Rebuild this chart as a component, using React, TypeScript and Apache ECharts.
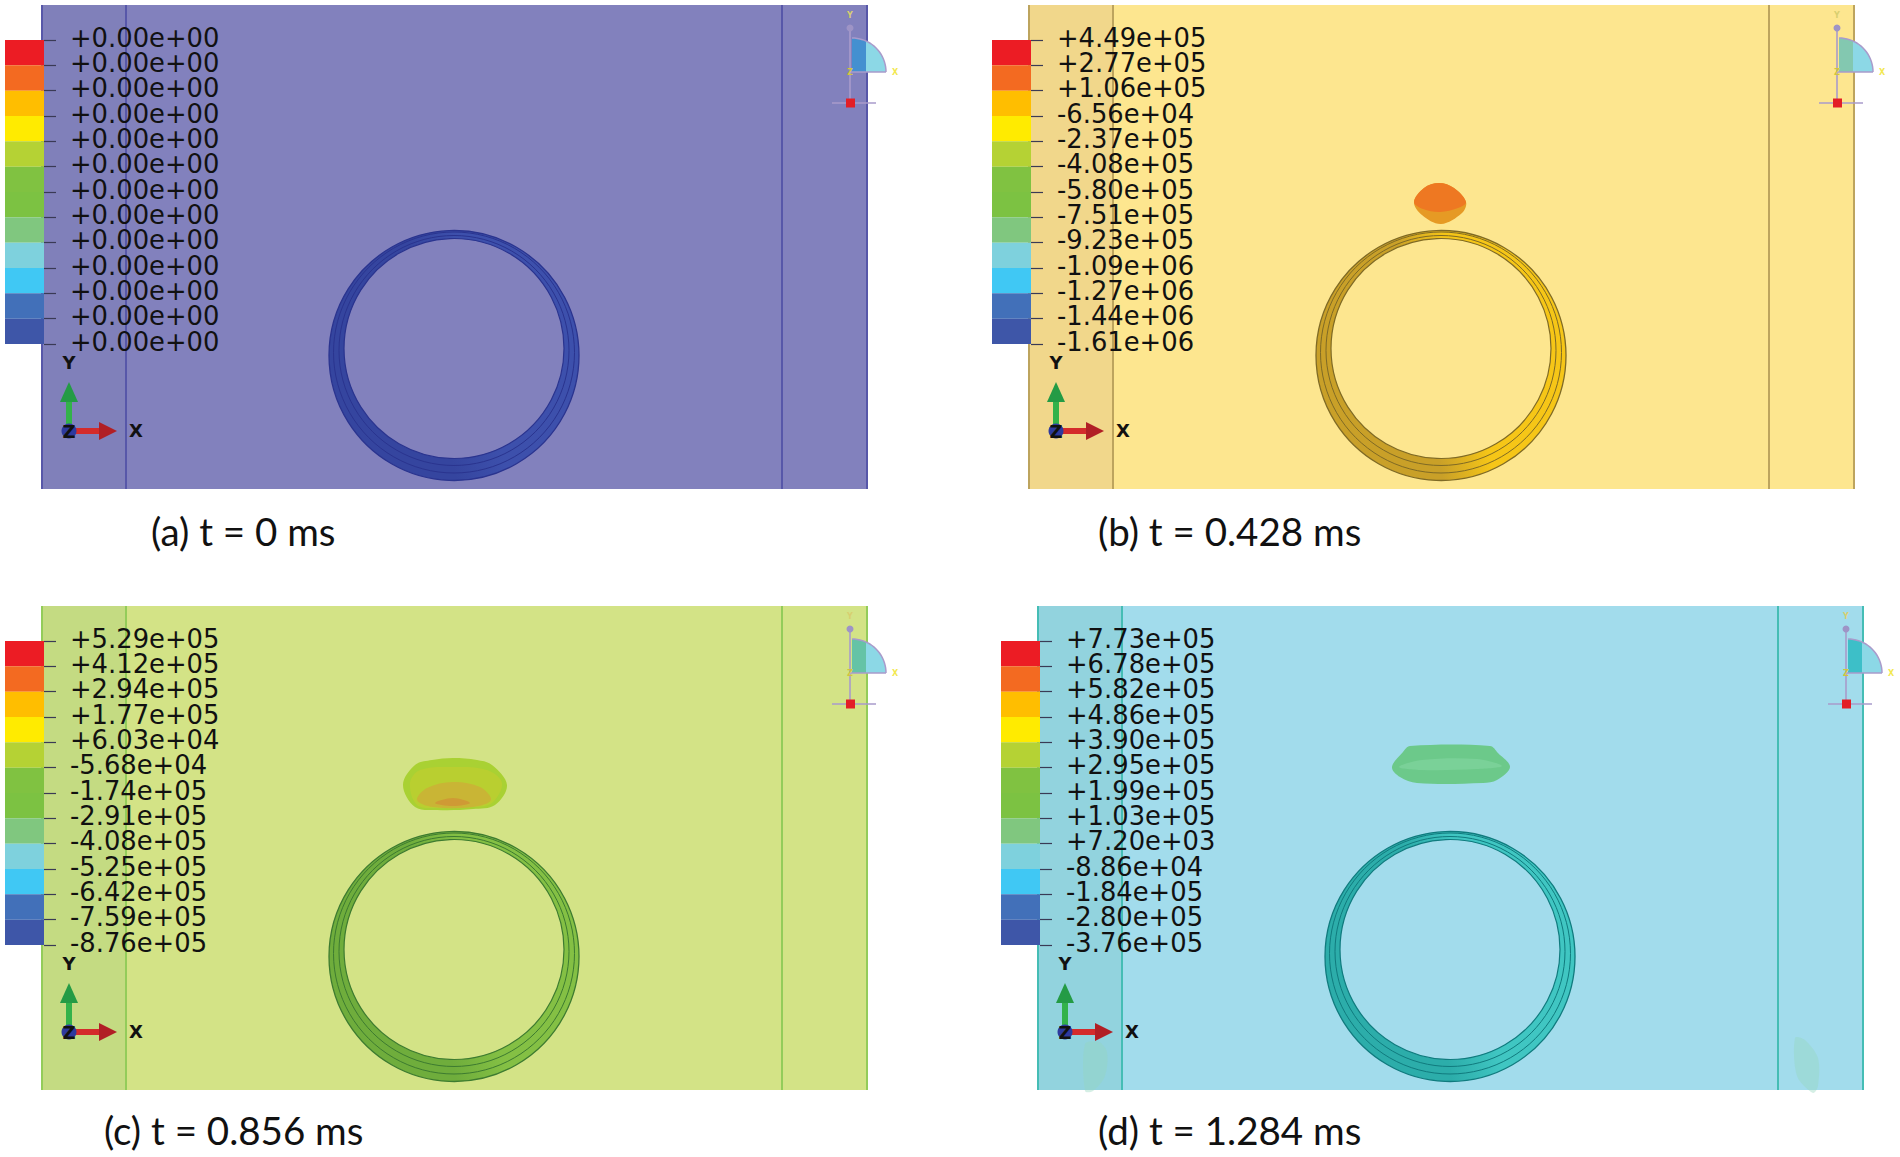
import React, { useEffect, useRef } from "react";
import * as echarts from "echarts";

const labelsA = ["+0.00e+00","+0.00e+00","+0.00e+00","+0.00e+00","+0.00e+00","+0.00e+00","+0.00e+00","+0.00e+00","+0.00e+00","+0.00e+00","+0.00e+00","+0.00e+00","+0.00e+00"];
const labelsB = ["+4.49e+05","+2.77e+05","+1.06e+05","-6.56e+04","-2.37e+05","-4.08e+05","-5.80e+05","-7.51e+05","-9.23e+05","-1.09e+06","-1.27e+06","-1.44e+06","-1.61e+06"];
const labelsC = ["+5.29e+05","+4.12e+05","+2.94e+05","+1.77e+05","+6.03e+04","-5.68e+04","-1.74e+05","-2.91e+05","-4.08e+05","-5.25e+05","-6.42e+05","-7.59e+05","-8.76e+05"];
const labelsD = ["+7.73e+05","+6.78e+05","+5.82e+05","+4.86e+05","+3.90e+05","+2.95e+05","+1.99e+05","+1.03e+05","+7.20e+03","-8.86e+04","-1.84e+05","-2.80e+05","-3.76e+05"];
const legendColors = ["#EC1C24","#F36A21","#FFBE00","#FFEB00","#B5D234","#80C241","#7CC242","#80C77F","#7ED1DD","#40C8F4","#4270B9","#3E56A8"];
const captions = ["(a) t = 0 ms","(b) t = 0.428 ms","(c) t = 0.856 ms","(d) t = 1.284 ms"];
const captionLeft = [151,1098,104,1098];
const captionTop = [511,511,1110,1110];
const allLabels = [labelsA,labelsB,labelsC,labelsD];
const originX = [41,1028,41,1037];
const originY = [5,5,606,606];
const plate = ["#8281BD","#FDE68F","#D3E386","#A2DCEC"];
const band = ["#8080BA","#F1D78B","#C4DB82","#92D3DE"];
const divider = ["#5757A9","#BDA45E","#93CC5A","#45BDB5"];
const ringLight = ["#3D50AC","#F6C617","#84C044","#40C6C2"];
const ringDark = ["#35459F","#C9A028","#6FAD3C","#2CADAA"];
const ringLine = ["#2A348F","#7F6A25","#3D7B30","#107B7E"];
const cubeInner = ["#4490D0","#83C8B0","#65C3A6","#3DBFC8"];
const cubeOuter = ["#8CD8E6","#8CD8E6","#8CD8E6","#8CD8E6"];
const blobB: number[][][] = [
  [[386,197],[396,183],[411,178],[426,183],[438,197],[434,208],[413,219],[394,210]],
  [[386,197],[396,183],[411,178],[426,183],[438,197],[430,203],[412,207],[395,204]],
];
const blobC: number[][][] = [
  [[362,179],[374,159],[391,154],[412,152],[436,154],[451,159],[466,179],[454,199],[432,203],[396,204],[374,201]],
  [[369,177],[379,164],[412,161],[446,164],[461,177],[451,197],[432,201],[396,202],[376,199]],
  [[376,194],[386,182],[412,176],[439,181],[450,194],[432,201],[392,201]],
  [[394,197],[412,192],[429,197],[412,200]],
];
const blobD: number[][][] = [
  [[355,161],[366,146],[373,140],[453,140],[461,147],[473,161],[460,174],[446,177],[380,177],[363,171]],
  [[362,161],[385,154],[440,153],[465,160],[440,163],[385,164]],
];
const faintD: number[][][] = [
  [[48,438],[62,436],[70,446],[68,470],[56,485],[48,485]],
  [[758,432],[768,434],[781,452],[781,480],[776,487],[760,470]],
];
const blobs = [[], blobB, blobC, blobD];
const blobColors = [[],["#E69A24","#EE7822"],["#A9D133","#B9CF30","#C9B535","#CF9A35"],["#6CC98A","#7AD198"]];

function sceneItem(p: number) {
  return (_params: any, api: any) => {
    const pt = (x: number, y: number) => api.coord([x, y]);
    const children: any[] = [];
    const rect = (x0: number, y0: number, x1: number, y1: number, fill: string) => {
      const a = pt(x0, y0); const b = pt(x1, y1);
      children.push({ type: "rect", shape: { x: a[0], y: a[1], width: b[0]-a[0], height: b[1]-a[1] }, style: { fill } });
    };
    const poly = (pts: number[][], fill: string, smooth = 0) => {
      children.push({ type: "polygon", shape: { points: pts.map((q) => pt(q[0], q[1])), smooth }, style: { fill } });
    };
    const line = (x0: number, y0: number, x1: number, y1: number, stroke: string, lineWidth: number) => {
      const a = pt(x0, y0); const b = pt(x1, y1);
      children.push({ type: "line", shape: { x1: a[0], y1: a[1], x2: b[0], y2: b[1] }, style: { stroke, lineWidth } });
    };
    const text = (s: string, x: number, y: number, fill: string, font: string) => {
      const a = pt(x, y);
      children.push({ type: "text", x: a[0], y: a[1], style: { text: s, fill, font, align: "center", verticalAlign: "middle" } });
    };
    const circle = (x: number, y: number, r: number, fill: any, stroke: string, lineWidth: number) => {
      const a = pt(x, y);
      children.push({ type: "circle", shape: { cx: a[0], cy: a[1], r }, style: { fill, stroke, lineWidth } });
    };
    // plate
    rect(0, 0, 827, 484, plate[p]);
    rect(0, 0, 85, 484, band[p]);
    line(1, 0, 1, 484, divider[p], 2);
    line(85, 0, 85, 484, divider[p], 2);
    line(741, 0, 741, 484, divider[p], 2);
    line(826, 0, 826, 484, divider[p], 2);
    // ring
    const grad = new echarts.graphic.LinearGradient(0, 0.8, 1, 0.6, [
      { offset: 0, color: ringDark[p] }, { offset: 0.45, color: ringDark[p] }, { offset: 0.65, color: ringLight[p] }, { offset: 1, color: ringLight[p] },
    ]);
    circle(413, 350.5, 125, grad, ringLine[p], 1.3);
    circle(413, 347.5, 120.5, "none", ringLine[p], 1);
    circle(413, 345.5, 115, "none", ringLine[p], 1);
    circle(413, 343.5, 110, plate[p], ringLine[p], 1.2);
    // blobs
    (blobs[p] as number[][][]).forEach((b, i) => poly(b, (blobColors[p] as string[])[i], 0.35));
    if (p === 3) faintD.forEach((b) => poly(b, "rgba(150,215,190,0.4)", 0.3));
    // triad
    line(28, 427, 28, 392, "#33B24A", 6);
    poly([[28,377],[37,397],[19,397]], "#249B45");
    line(34, 426, 60, 426, "#D42B2B", 6);
    poly([[76,426],[58,417],[58,435]], "#B11F25");
    circle(28, 426, 7.5, "#2E3A9E", "none", 0);
    text("Z", 28, 426, "#111", "bold 18px 'DejaVu Sans'");
    text("Y", 28, 357, "#111", "bold 18px 'DejaVu Sans'");
    text("X", 95, 425, "#111", "bold 18px 'DejaVu Sans'");
    // view triad
    const c = pt(811, 67);
    const r = 34;
    const edge = pt(825, 67)[0];
    const inner: number[][] = [c];
    const outer: number[][] = [];
    const dAng = Math.acos((edge - c[0]) / r);
    for (let k = 0; k <= 12; k++) {
      const ang = Math.PI / 2 - (Math.PI / 2 - dAng) * k / 12;
      inner.push([c[0] + r * Math.cos(ang), c[1] - r * Math.sin(ang)]);
    }
    inner.push([edge, c[1]]);
    outer.push([edge, c[1]]);
    for (let k = 0; k <= 12; k++) {
      const ang = dAng - dAng * k / 12;
      outer.push([c[0] + r * Math.cos(ang), c[1] - r * Math.sin(ang)]);
    }
    children.push({ type: "polygon", shape: { points: outer }, style: { fill: cubeOuter[p] } });
    children.push({ type: "polygon", shape: { points: inner }, style: { fill: cubeInner[p] } });
    const arcPts: number[][] = [];
    for (let k = 0; k <= 20; k++) {
      const ang = Math.PI / 2 * k / 20;
      arcPts.push([c[0] + r * Math.cos(ang), c[1] - r * Math.sin(ang)]);
    }
    children.push({ type: "polyline", shape: { points: arcPts }, style: { stroke: "#A99BCB", lineWidth: 1.5, fill: "none" } });
    line(809, 22, 809, 98, "#A99BCB", 1.6);
    line(809, 67, 845, 67, "#A99BCB", 1.6);
    line(791, 98, 835, 98, "#A99BCB", 1.6);
    circle(809, 23, 3.5, "#9E94C6", "none", 0);
    rect(805, 93.5, 814, 102.5, "#E31E26");
    text("Y", 809, 10, "#D8CF70", "bold 8px 'DejaVu Sans'");
    text("Z", 809, 67, "#D2C63C", "bold 8px 'DejaVu Sans'");
    text("X", 854, 67, "#F2E850", "bold 8px 'DejaVu Sans'");
    return { type: "group", children };
  };
}

function legendItem(params: any, api: any) {
  const i = params.dataIndex;
  const a = api.coord([0, i]);
  const b = api.coord([1, i + 1]);
  return { type: "rect", shape: { x: a[0], y: a[1], width: b[0] - a[0], height: b[1] - a[1] }, style: { fill: legendColors[i] } };
}

export default function App() {
  const ref = useRef<HTMLDivElement>(null);
  useEffect(() => {
    document.body.style.margin = "0";
    const chart = echarts.init(ref.current!, undefined, { renderer: "svg" });
    const grid: any[] = [], xAxis: any[] = [], yAxis: any[] = [], series: any[] = [];
    allLabels.forEach((labels, p) => {
      grid.push({ left: originX[p], top: originY[p], width: 828, height: 484 });
      xAxis.push({ type: "value", min: 0, max: 828, show: false, gridIndex: grid.length - 1 });
      yAxis.push({ type: "value", min: 0, max: 484, inverse: true, show: false, gridIndex: grid.length - 1 });
      series.push({ type: "custom", coordinateSystem: "cartesian2d", xAxisIndex: xAxis.length - 1, yAxisIndex: yAxis.length - 1, data: [[0, 0]], renderItem: sceneItem(p), silent: true, z: 1 });
      grid.push({ left: originX[p] - 36, top: originY[p] + 35, width: 39, height: 304 });
      xAxis.push({ type: "value", min: 0, max: 1, show: false, gridIndex: grid.length - 1 });
      yAxis.push({
        type: "category", data: labels, inverse: true, boundaryGap: false, position: "right", gridIndex: grid.length - 1, z: 10,
        axisLine: { show: false, onZero: false },
        axisTick: { show: true, length: 12, alignWithLabel: true, interval: 0, lineStyle: { color: "#3A3A55", width: 1.2 } },
        axisLabel: { show: true, interval: 0, margin: 26, color: "#111", fontFamily: "DejaVu Sans", fontSize: 25.8, verticalAlign: "bottom", lineHeight: 5, hideOverlap: false, showMinLabel: true, showMaxLabel: true },
        splitLine: { show: false },
      });
      series.push({ type: "custom", coordinateSystem: "cartesian2d", xAxisIndex: xAxis.length - 1, yAxisIndex: yAxis.length - 1, data: legendColors.map((_, i) => [0, i]), encode: { x: 0, y: 1 }, renderItem: legendItem, silent: true, z: 3 });
    });
    const title = captions.map((text, i) => ({ text, left: captionLeft[i], top: captionTop[i], padding: 0, textStyle: { fontFamily: "Lato", fontWeight: "normal", fontSize: 38.5, color: "#111" } }));
    chart.setOption({ animation: false, backgroundColor: "#fff", title, grid, xAxis, yAxis, series, tooltip: { show: false } });
    return () => chart.dispose();
  }, []);
  return <div ref={ref} style={{ position: "absolute", left: 0, top: 0, width: 1900, height: 1157 }} />;
}
